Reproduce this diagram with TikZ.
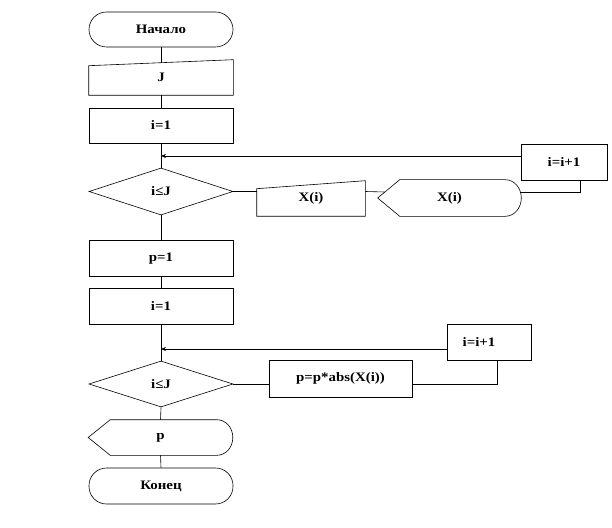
\documentclass[tikz,border=0pt]{standalone}
\usepackage{fontspec}
\setmainfont{Liberation Serif}[FakeStretch=1.15]
\usetikzlibrary{shapes.geometric,arrows.meta,calc}
\begin{document}
\begin{tikzpicture}[x=1bp,y=-1bp,
  font=\fontsize{13}{15}\selectfont\bfseries,
  line width=0.6bp,
  base/.style={rectangle, inner sep=0pt, minimum width=144bp, minimum height=35bp},
  procbox/.style={base, draw},
  termbox/.style={base, draw, rounded corners=17.5bp},
  blank/.style={base},
  decis/.style={draw, diamond, inner sep=0pt, minimum width=144bp, minimum height=47bp},
  arr/.style={-{Stealth[length=5bp,width=4bp]}}
]
\useasboundingbox (0,0) rectangle (612,528);

% main column
\node[termbox] (start) at (161,29.5) {Начало};
\node[blank] (J) at (161,77.5) {J};
\draw (J.south west) -- (J.south east) -- (J.north east) -- ([yshift=-6bp]J.north west) -- cycle;
\node[procbox] (i1) at (161,125.5) {i=1};
\node[decis] (d1) at (161,191.5) {i≤J};
\node[procbox, minimum height=36bp] (p1) at (161,258.5) {p=1};
\node[procbox, minimum height=36bp] (i2) at (161,306) {i=1};
\node[decis, minimum height=46bp] (d2) at (161,384) {i≤J};
\node[blank] (pout) at (160.5,437.5) {p};
\draw (pout.west) -- ([xshift=22bp]pout.north west) -- ([xshift=-16bp]pout.north east)
  .. controls ([xshift=-7bp]pout.north east) and ([yshift=10bp]pout.east) .. (pout.east)
  .. controls ([yshift=-10bp]pout.east) and ([xshift=-7bp]pout.south east) .. ([xshift=-16bp]pout.south east)
  -- ([xshift=22bp]pout.south west) -- cycle;
\node[termbox, minimum height=36bp] (end) at (161,486) {Конец};

% first loop
\node[blank, minimum width=108bp] (xin) at (311,198.5) {X(i)};
\draw (xin.south west) -- (xin.south east) -- (xin.north east) -- ([yshift=-8bp]xin.north west) -- cycle;
\node[blank, minimum width=143bp, minimum height=36bp] (xout) at (449.5,198) {X(i)};
\draw (xout.west) -- ([xshift=22bp]xout.north west) -- ([xshift=-16bp]xout.north east)
  .. controls ([xshift=-7bp]xout.north east) and ([yshift=10bp]xout.east) .. (xout.east)
  .. controls ([yshift=-10bp]xout.east) and ([xshift=-7bp]xout.south east) .. ([xshift=-16bp]xout.south east)
  -- ([xshift=22bp]xout.south west) -- cycle;
\node[procbox, minimum width=86bp, minimum height=36bp] (inc1) at (564,162) {i=i+1};

% second loop
\node[procbox, minimum width=143bp, minimum height=37bp] (mul) at (340.5,378.5) {p=p*abs(X(i))};
\node[procbox, minimum width=84bp, minimum height=36bp] (inc2) at (489,342.5) {i=i+1\hspace*{20bp}};

% connectors main column
\draw (start.south) -- ([yshift=-3bp]J.north);
\draw (J.south) -- (i1.north);
\draw (i1.south) -- (d1.north);
\draw (d1.south) -- (p1.north);
\draw (p1.south) -- (i2.north);
\draw (i2.south) -- (d2.north);
\draw (d2.south) -- (pout.north);
\draw (pout.south) -- (end.north);

% first loop connectors
\draw (d1.east) -- (d1.east -| xin.west);
\draw (d1.east -| xin.east) -- ([xshift=7bp,yshift=6bp]xout.west);
\draw ([xshift=-1bp,yshift=6bp]xout.east) -| ([xshift=16bp]inc1.south);
\draw[arr] ([yshift=6bp]inc1.west) -- ([yshift=6bp]inc1.west -| i1.south);

% second loop connectors
\draw (d2.east) -- (d2.east -| mul.west);
\draw (d2.east -| mul.east) -| ([xshift=8bp]inc2.south);
\draw[arr] ([yshift=-6.5bp]inc2.west) -- ([yshift=-6.5bp]inc2.west -| i2.south);
\end{tikzpicture}
\end{document}
